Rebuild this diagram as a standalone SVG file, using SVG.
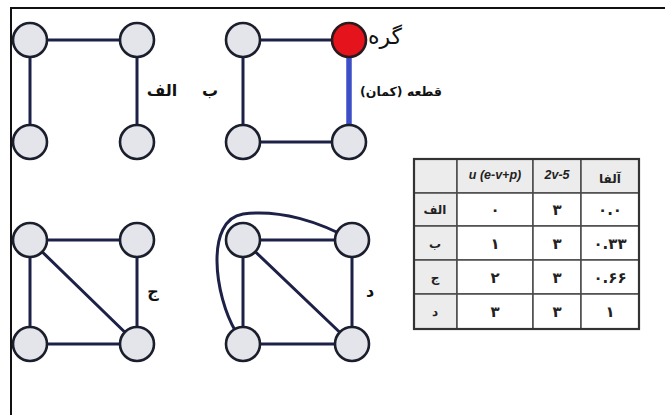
<svg xmlns="http://www.w3.org/2000/svg" width="665" height="415" viewBox="0 0 665 415">
<style>
.node{fill:#e4e5ea;stroke:#1b1e2c;stroke-width:2.6}
.red{fill:#e5141c;stroke:#2a1a1e;stroke-width:2.6}
.edge{stroke:#1d2147;stroke-width:3;fill:none;stroke-linecap:round}
.blue{stroke:#3d4ec7;stroke-width:5.5;fill:none}
.lbl{font-family:'DejaVu Sans',sans-serif;font-weight:bold;font-size:16px;fill:#111;text-anchor:middle}
.ann{font-family:'DejaVu Sans',sans-serif;fill:#111;text-anchor:middle}
.cell{stroke:#4a4a4a;stroke-width:1.5}
.hd{fill:#ececec}
.wt{fill:#ffffff}
.tx{font-family:'DejaVu Sans',sans-serif;font-weight:bold;font-size:12px;fill:#222;text-anchor:middle}
.dg{font-family:'DejaVu Sans',sans-serif;font-weight:bold;font-size:15px;fill:#222;text-anchor:middle}
.tl{font-family:'Liberation Sans',sans-serif;font-weight:bold;font-style:italic;font-size:12.5px;fill:#222;text-anchor:middle}
</style>
<rect width="665" height="415" fill="#ffffff"/>
<g id="frame" stroke="#111" stroke-width="2" fill="none">
<line x1="11" y1="8" x2="665" y2="8"/>
<line x1="11" y1="7" x2="11" y2="415"/>
</g>
<g id="connectors">
<line class="edge" x1="30" y1="40" x2="137" y2="40"/>
<line class="edge" x1="30" y1="40" x2="30" y2="142"/>
<line class="edge" x1="137" y1="40" x2="137" y2="142"/>
<line class="edge" x1="243" y1="40" x2="349" y2="40"/>
<line class="edge" x1="243" y1="40" x2="243" y2="142"/>
<line class="edge" x1="243" y1="142" x2="349" y2="142"/>
<line class="blue" x1="349" y1="40" x2="349" y2="142"/>
<line class="edge" x1="30" y1="240" x2="137" y2="240"/>
<line class="edge" x1="30" y1="240" x2="30" y2="344"/>
<line class="edge" x1="137" y1="240" x2="137" y2="344"/>
<line class="edge" x1="30" y1="344" x2="137" y2="344"/>
<line class="edge" x1="30" y1="240" x2="137" y2="344"/>
<line class="edge" x1="243" y1="240" x2="352" y2="240"/>
<line class="edge" x1="243" y1="240" x2="243" y2="344"/>
<line class="edge" x1="352" y1="240" x2="352" y2="344"/>
<line class="edge" x1="243" y1="344" x2="352" y2="344"/>
<line class="edge" x1="243" y1="240" x2="352" y2="344"/>
<path class="edge" d="M 236 332 C 214 295, 205 220, 243 214 C 280 209, 320 222, 352 240"/>
</g>
<g id="a1"><circle class="node" cx="30" cy="40" r="17"/></g>
<g id="a2"><circle class="node" cx="137" cy="40" r="17"/></g>
<g id="a3"><circle class="node" cx="30" cy="142" r="17"/></g>
<g id="a4"><circle class="node" cx="137" cy="142" r="17"/></g>
<g id="b1"><circle class="node" cx="243" cy="40" r="17"/></g>
<g id="b2"><circle class="red" cx="349" cy="40" r="17"/></g>
<g id="b3"><circle class="node" cx="243" cy="142" r="17"/></g>
<g id="b4"><circle class="node" cx="349" cy="142" r="17"/></g>
<g id="c1"><circle class="node" cx="30" cy="240" r="17"/></g>
<g id="c2"><circle class="node" cx="137" cy="240" r="17"/></g>
<g id="c3"><circle class="node" cx="30" cy="344" r="17"/></g>
<g id="c4"><circle class="node" cx="137" cy="344" r="17"/></g>
<g id="d1"><circle class="node" cx="243" cy="240" r="17"/></g>
<g id="d2"><circle class="node" cx="352" cy="240" r="17"/></g>
<g id="d3"><circle class="node" cx="243" cy="344" r="17"/></g>
<g id="d4"><circle class="node" cx="352" cy="344" r="17"/></g>
<g id="labels">
<text class="lbl" x="162" y="96">الف</text>
<text class="lbl" x="210" y="96">ب</text>
<text class="lbl" x="153" y="297">ج</text>
<text class="lbl" x="370" y="297">د</text>
<text class="ann" x="385" y="44" font-size="22">گره</text>
<text class="ann" x="401" y="96" font-weight="bold" font-size="12.5">قطعه (کمان)</text>
</g>
<g id="table">
<rect class="cell hd" x="414" y="159" width="43" height="34"/>
<rect class="cell hd" x="457" y="159" width="76" height="34"/>
<rect class="cell hd" x="533" y="159" width="48" height="34"/>
<rect class="cell hd" x="581" y="159" width="58" height="34"/>
<rect class="cell hd" x="414" y="193" width="43" height="33"/>
<rect class="cell wt" x="457" y="193" width="76" height="33"/>
<rect class="cell wt" x="533" y="193" width="48" height="33"/>
<rect class="cell wt" x="581" y="193" width="58" height="33"/>
<rect class="cell hd" x="414" y="226" width="43" height="34"/>
<rect class="cell wt" x="457" y="226" width="76" height="34"/>
<rect class="cell wt" x="533" y="226" width="48" height="34"/>
<rect class="cell wt" x="581" y="226" width="58" height="34"/>
<rect class="cell hd" x="414" y="260" width="43" height="34"/>
<rect class="cell wt" x="457" y="260" width="76" height="34"/>
<rect class="cell wt" x="533" y="260" width="48" height="34"/>
<rect class="cell wt" x="581" y="260" width="58" height="34"/>
<rect class="cell hd" x="414" y="294" width="43" height="35"/>
<rect class="cell wt" x="457" y="294" width="76" height="35"/>
<rect class="cell wt" x="533" y="294" width="48" height="35"/>
<rect class="cell wt" x="581" y="294" width="58" height="35"/>
<rect x="414" y="159" width="225" height="170" fill="none" stroke="#333" stroke-width="2.2"/>
<text class="tl" x="495" y="179">u (e-v+p)</text>
<text class="tl" x="557" y="179">2v-5</text>
<text class="tx" x="610" y="183" font-size="13">آلفا</text>
<text class="tx" x="435" y="214">الف</text>
<text class="dg" x="495" y="215">۰</text>
<text class="dg" x="557" y="215">۳</text>
<text class="dg" x="610" y="215">۰.۰</text>
<text class="tx" x="435" y="248">ب</text>
<text class="dg" x="495" y="249">۱</text>
<text class="dg" x="557" y="249">۳</text>
<text class="dg" x="610" y="249">۰.۳۳</text>
<text class="tx" x="435" y="282">ج</text>
<text class="dg" x="495" y="283">۲</text>
<text class="dg" x="557" y="283">۳</text>
<text class="dg" x="610" y="283">۰.۶۶</text>
<text class="tx" x="435" y="316">د</text>
<text class="dg" x="495" y="317">۳</text>
<text class="dg" x="557" y="317">۳</text>
<text class="dg" x="610" y="317">۱</text>
</g>
</svg>
